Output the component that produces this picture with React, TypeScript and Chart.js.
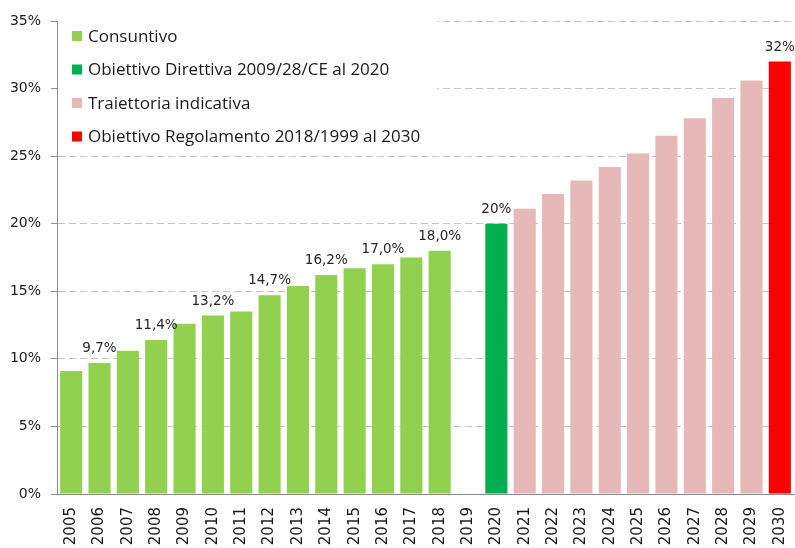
import React, { useEffect, useRef } from 'react';
import { Chart, registerables } from 'chart.js';

Chart.register(...registerables);

const years = [
  '2005', '2006', '2007', '2008', '2009', '2010', '2011', '2012', '2013',
  '2014', '2015', '2016', '2017', '2018', '2019', '2020', '2021', '2022',
  '2023', '2024', '2025', '2026', '2027', '2028', '2029', '2030',
];

// Consuntivo 2005-2018
const consuntivoYears = ['2005', '2006', '2007', '2008', '2009', '2010', '2011', '2012', '2013', '2014', '2015', '2016', '2017', '2018'];
const consuntivoValues = [9.1, 9.7, 10.6, 11.4, 12.6, 13.2, 13.5, 14.7, 15.4, 16.2, 16.7, 17.0, 17.5, 18.0];

// Obiettivo Direttiva 2009/28/CE al 2020
const direttivaYears = ['2020'];
const direttivaValues = [20];

// Traiettoria indicativa 2021-2029
const traiettoriaYears = ['2021', '2022', '2023', '2024', '2025', '2026', '2027', '2028', '2029'];
const traiettoriaValues = [21.1, 22.2, 23.2, 24.2, 25.2, 26.5, 27.8, 29.3, 30.6];

// Obiettivo Regolamento 2018/1999 al 2030
const regolamentoYears = ['2030'];
const regolamentoValues = [32];

// Years carrying a value label
const labelledYears = ['2006', '2008', '2010', '2012', '2014', '2016', '2018', '2020', '2030'];

const yTicks = [0, 5, 10, 15, 20, 25, 30, 35];

const seriesLabels = [
  'Consuntivo',
  'Obiettivo Direttiva 2009/28/CE al 2020',
  'Traiettoria indicativa',
  'Obiettivo Regolamento 2018/1999 al 2030',
];
const seriesColors = ['#92D050', '#00B050', '#E6B8B7', '#FF0000'];

function toSeries(ys: string[], vs: number[]) {
  return years.map((y) => {
    const i = ys.indexOf(y);
    return i >= 0 ? vs[i] : null;
  });
}

const legendPlugin = {
  id: 'insideLegend',
  beforeDatasetsDraw(chart: any) {
    const { ctx, chartArea } = chart;
    const left = chartArea.left;
    const top = chartArea.top;
    ctx.save();
    ctx.fillStyle = '#ffffff';
    ctx.fillRect(left + 1, top - 3, 379, 132);
    ctx.font = '17px "Open Sans"';
    ctx.textBaseline = 'middle';
    ctx.textAlign = 'left';
    chart.data.datasets.forEach((ds: any, i: number) => {
      const cy = top + 15 + i * 33.5;
      ctx.fillStyle = ds.backgroundColor;
      ctx.fillRect(left + 15, cy - 5, 10, 10);
      ctx.fillStyle = '#1a1a1a';
      ctx.fillText(ds.label, left + 31, cy + 1);
    });
    ctx.restore();
  },
};

const valueLabelPlugin = {
  id: 'valueLabels',
  afterDatasetsDraw(chart: any) {
    const { ctx } = chart;
    ctx.save();
    ctx.font = '13.5px "DejaVu Sans"';
    ctx.fillStyle = '#262626';
    ctx.textAlign = 'center';
    ctx.textBaseline = 'alphabetic';
    chart.data.datasets.forEach((ds: any, di: number) => {
      const meta = chart.getDatasetMeta(di);
      meta.data.forEach((el: any, idx: number) => {
        const v = ds.data[idx];
        if (v === null || v === undefined) return;
        if (!labelledYears.includes(years[idx])) return;
        const txt = di === 0 ? v.toFixed(1).replace('.', ',') + '%' : v.toFixed(0) + '%';
        ctx.fillText(txt, el.x, el.y - 11);
      });
    });
    ctx.restore();
  },
};

export default function App() {
  const ref = useRef<HTMLCanvasElement>(null);

  useEffect(() => {
    if (!ref.current) return;
    const chart = new Chart(ref.current, {
      type: 'bar',
      data: {
        labels: years,
        datasets: [
          { label: seriesLabels[0], data: toSeries(consuntivoYears, consuntivoValues), backgroundColor: seriesColors[0] },
          { label: seriesLabels[1], data: toSeries(direttivaYears, direttivaValues), backgroundColor: seriesColors[1] },
          { label: seriesLabels[2], data: toSeries(traiettoriaYears, traiettoriaValues), backgroundColor: seriesColors[2] },
          { label: seriesLabels[3], data: toSeries(regolamentoYears, regolamentoValues), backgroundColor: seriesColors[3] },
        ].map((d) => ({ ...d, barPercentage: 0.78, categoryPercentage: 1, borderWidth: 0 })),
      },
      options: {
        responsive: false,
        animation: false,
        layout: { padding: { top: 21, right: 1, left: 0, bottom: 0 } },
        plugins: {
          legend: { display: false },
          tooltip: { enabled: false },
        },
        scales: {
          x: {
            stacked: true,
            grid: { display: false, drawTicks: false },
            border: { display: true, color: '#8c8c8c', width: 1 },
            ticks: {
              autoSkip: false,
              maxRotation: 90,
              minRotation: 90,
              padding: 13,
              color: '#1a1a1a',
              font: { family: '"DejaVu Sans"', size: 15 },
            },
            afterFit: (s: any) => {
              s.height = 54;
              s.paddingLeft = 0;
              s.paddingRight = 0;
            },
          },
          y: {
            stacked: true,
            min: 0,
            max: 35,
            afterBuildTicks: (s: any) => {
              s.ticks = yTicks.map((v) => ({ value: v }));
            },
            grid: {
              color: '#c4c4c4',
              lineWidth: 1,
              tickLength: 6,
              tickColor: '#8c8c8c',
              tickBorderDash: [],
            },
            border: { display: true, color: '#8c8c8c', width: 1, dash: [7, 4] },
            ticks: {
              padding: 10,
              color: '#1a1a1a',
              font: { family: '"DejaVu Sans"', size: 14 },
              callback: (v: any) => v + '%',
            },
            afterFit: (s: any) => {
              s.width = 57;
            },
          },
        },
      },
      plugins: [legendPlugin, valueLabelPlugin],
    } as any);
    return () => chart.destroy();
  }, []);

  return (
    <div style={{ position: 'fixed', left: 0, top: 0, width: 795, height: 548, background: '#fff' }}>
      <canvas ref={ref} width={795} height={548} style={{ display: 'block' }} />
    </div>
  );
}
